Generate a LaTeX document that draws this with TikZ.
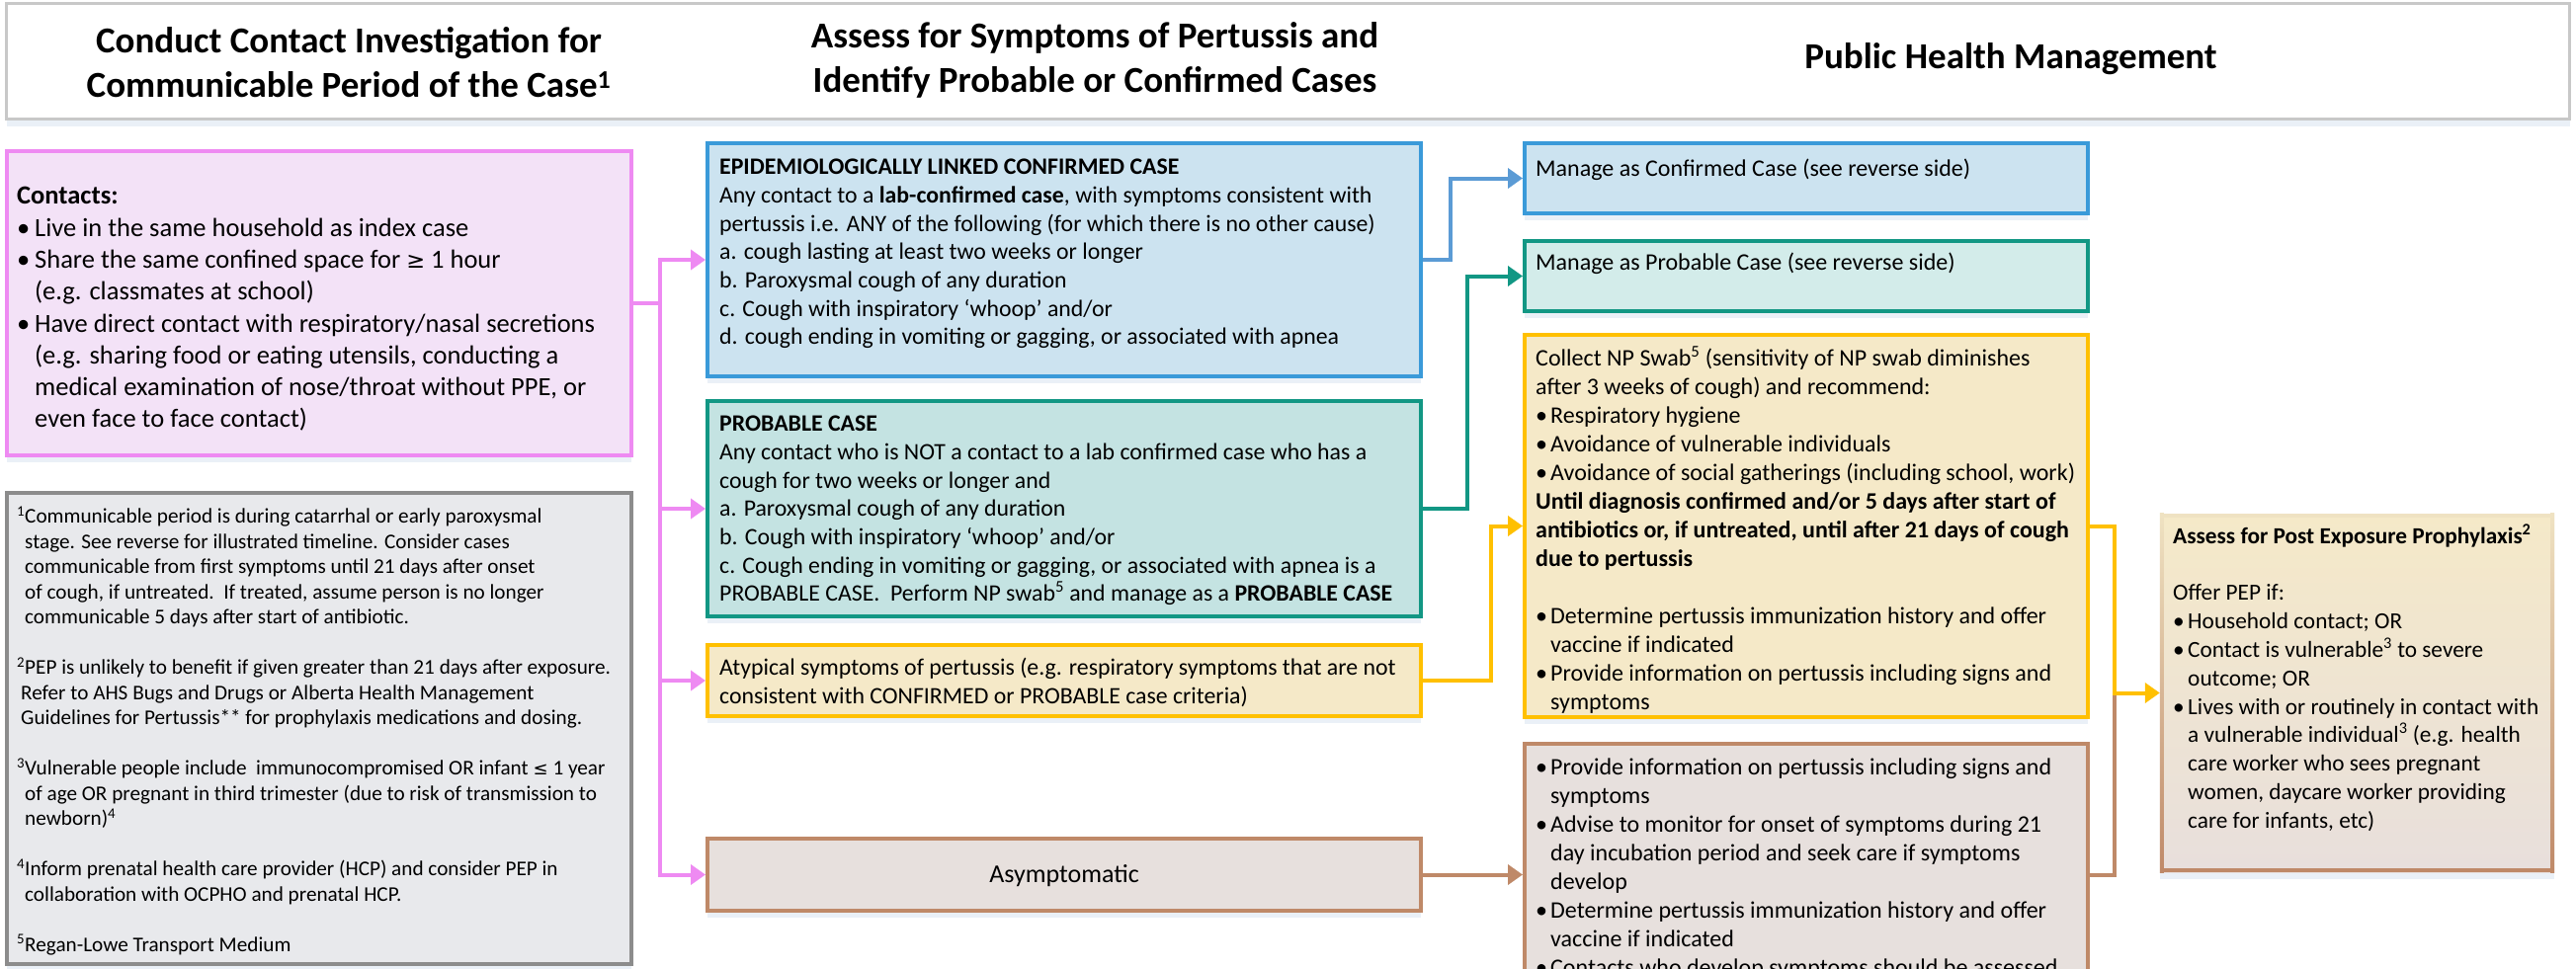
\documentclass[tikz,border=0pt]{standalone}
\usepackage{fontspec}
\setmainfont{Carlito}
\newfontfamily\symfont[Scale=0.85]{DejaVu Sans}
\usetikzlibrary{arrows.meta,shadows,calc}
\definecolor{pinkD}{HTML}{EE8AF2}
\definecolor{pinkF}{HTML}{F3E2F7}
\definecolor{grayD}{HTML}{8C8C8C}
\definecolor{grayF}{HTML}{E8E9EC}
\definecolor{blueD}{HTML}{3A9AD9}
\definecolor{blueF}{HTML}{CCE3F0}
\definecolor{blueA}{HTML}{5B9BD5}
\definecolor{tealD}{HTML}{129784}
\definecolor{tealF}{HTML}{C4E3E2}
\definecolor{tealF2}{HTML}{D3ECEA}
\definecolor{yelD}{HTML}{FFC000}
\definecolor{yelF}{HTML}{F5E9C8}
\definecolor{brownD}{HTML}{BF8968}
\definecolor{brownF}{HTML}{E7E0DD}
\definecolor{pepTop}{HTML}{F5E9C8}
\definecolor{pepBot}{HTML}{E8DFDC}
\definecolor{pepBT}{HTML}{EFE2C2}
\definecolor{hdrD}{HTML}{C8C8C8}
\definecolor{shadowc}{HTML}{EAF0F7}
\newcommand{\mybul}{\makebox[15pt][l]{\textbullet}}
\newcommand{\myind}{\hspace*{15pt}}
\newcommand{\cbul}{\makebox[18pt][l]{\textbullet}}
\newcommand{\cind}{\hspace*{18pt}}
\begin{document}
\begin{tikzpicture}[x=1pt,y=-1pt,
  shd/.style={drop shadow={shadow xshift=0pt,shadow yshift=-7pt,fill=shadowc,opacity=1}},
  box/.style={draw,line width=4pt,inner sep=0pt,shd},
  txt/.style={anchor=west,align=left,inner sep=0pt},
  fbody/.style={font=\fontsize{23.8}{28.7}\selectfont},
  fmgmt/.style={font=\fontsize{24}{29}\selectfont},
  hdrtxt/.style={align=center,inner sep=0pt,font=\fontsize{37}{45}\selectfont\bfseries},
  arr/.style={-{Triangle[length=15pt,width=20pt]}},
  conn/.style={line width=4pt}
]
\fill[white] (0,0) rectangle (2607,980);
\useasboundingbox (0,0) rectangle (2607,980);

% header
\node[draw=hdrD,fill=white,line width=3pt,minimum width=2594pt,minimum height=117pt,inner sep=0pt,shd] (head) at (1303.5,62) {};
\node[hdrtxt] (h1) at (353,63) {Conduct Contact Investigation for\\Communicable Period of the Case\textsuperscript{1}};
\node[hdrtxt] (h2) at (1108,61) {Assess for Symptoms of Pertussis and\\Identify Probable or Confirmed Cases};
\node[hdrtxt] (h3) at (2035,60) {Public Health Management};

% boxes
\node[box,draw=pinkD,fill=pinkF,minimum width=632pt,minimum height=308pt] (contacts) at (323,307) {};
\node[box,draw=grayD,fill=grayF,line width=3.5pt,minimum width=632pt,minimum height=477pt] (foot) at (323,737.5) {};
\node[box,draw=blueD,fill=blueF,minimum width=722pt,minimum height=236pt] (conf) at (1077,263) {};
\node[box,draw=tealD,fill=tealF,minimum width=722pt,minimum height=218pt] (prob) at (1077,515) {};
\node[box,draw=yelD,fill=yelF,minimum width=722pt,minimum height=72pt] (atyp) at (1077,689) {};
\node[box,draw=brownD,fill=brownF,minimum width=722pt,minimum height=73pt] (asym) at (1077,885.5) {};
\node[box,draw=blueD,fill=blueF,minimum width=570pt,minimum height=71pt] (mconf) at (1828,180.5) {};
\node[box,draw=tealD,fill=tealF2,minimum width=570pt,minimum height=71pt] (mprob) at (1828,279.5) {};
\node[box,draw=yelD,fill=yelF,minimum width=570pt,minimum height=387pt] (swab) at (1828,532.5) {};
\node[box,draw=brownD,fill=brownF,minimum width=570pt,minimum height=300pt] (mgmt) at (1828,903) {};
\node[inner sep=0pt,top color=pepTop,bottom color=pepBot,minimum width=399pt,minimum height=363pt,shd] (pep) at (2385.5,701.5) {};
\shade[top color=pepBT,bottom color=brownD] (pep.north west) rectangle ([xshift=4pt]pep.south west);
\shade[top color=pepBT,bottom color=brownD] ([xshift=-4pt]pep.north east) rectangle (pep.south east);
\fill[pepBT] (pep.north west) rectangle ([yshift=-4pt]pep.north east);
\fill[brownD] ([yshift=4pt]pep.south west) rectangle (pep.south east);

% texts
\node[txt,font=\fontsize{26.5}{32.3}\selectfont] (contactsT) at (17,313) {\textbf{Contacts:}\\
\cbul Live in the same household as index case\\
\cbul Share the same confined space for {\symfont ≥} 1 hour\\
\cind (e.g. classmates at school)\\
\cbul Have direct contact with respiratory/nasal secretions\\
\cind (e.g. sharing food or eating utensils, conducting a\\
\cind medical examination of nose/throat without PPE, or\\
\cind even face to face contact)};

\node[txt,font=\fontsize{21.2}{25.5}\selectfont] (footT) at (17,740) {\textsuperscript{1}Communicable period is during catarrhal or early paroxysmal\\
\hspace*{8pt}stage. See reverse for illustrated timeline. Consider cases\\
\hspace*{8pt}communicable from first symptoms until 21 days after onset\\
\hspace*{8pt}of cough, if untreated.\ \ If treated, assume person is no longer\\
\hspace*{8pt}communicable 5 days after start of antibiotic.\\
\strut\\
\textsuperscript{2}PEP is unlikely to benefit if given greater than 21 days after exposure.\\
\hspace*{4pt}Refer to AHS Bugs and Drugs or Alberta Health Management\\
\hspace*{4pt}Guidelines for Pertussis** for prophylaxis medications and dosing.\\
\strut\\
\textsuperscript{3}Vulnerable people include\ \ immunocompromised OR infant {\symfont ≤} 1 year\\
\hspace*{8pt}of age OR pregnant in third trimester (due to risk of transmission to\\
\hspace*{8pt}newborn)\textsuperscript{4}\\
\strut\\
\textsuperscript{4}Inform prenatal health care provider (HCP) and consider PEP in\\
\hspace*{8pt}collaboration with OCPHO and prenatal HCP.\\
\strut\\
\textsuperscript{5}Regan-Lowe Transport Medium};

\node[txt,fbody] (confT) at (728,257) {\textbf{EPIDEMIOLOGICALLY LINKED CONFIRMED CASE}\\
Any contact to a \textbf{lab-confirmed case}, with symptoms consistent with\\
pertussis i.e. ANY of the following (for which there is no other cause)\\
a. cough lasting at least two weeks or longer\\
b. Paroxysmal cough of any duration\\
c. Cough with inspiratory ‘whoop’ and/or\\
d. cough ending in vomiting or gagging, or associated with apnea};

\node[txt,fbody] (probT) at (728,517) {\textbf{PROBABLE CASE}\\
Any contact who is NOT a contact to a lab confirmed case who has a\\
cough for two weeks or longer and\\
a. Paroxysmal cough of any duration\\
b. Cough with inspiratory ‘whoop’ and/or\\
c. Cough ending in vomiting or gagging, or associated with apnea is a\\
PROBABLE CASE.\ \ Perform NP swab\textsuperscript{5} and manage as a \textbf{PROBABLE CASE}};

\node[txt,fbody] (atypT) at (728,691) {Atypical symptoms of pertussis (e.g. respiratory symptoms that are not\\
consistent with CONFIRMED or PROBABLE case criteria)};

\node[inner sep=0pt,font=\fontsize{26}{29}\selectfont] (asymT) at (1077,887) {Asymptomatic};

\node[txt,fmgmt] (mconfT) at (1554,172) {Manage as Confirmed Case (see reverse side)};
\node[txt,fmgmt] (mprobT) at (1554,267) {Manage as Probable Case (see reverse side)};

\node[txt,fmgmt] (swabT) at (1554,537) {Collect NP Swab\textsuperscript{5} (sensitivity of NP swab diminishes\\
after 3 weeks of cough) and recommend:\\
\mybul Respiratory hygiene\\
\mybul Avoidance of vulnerable individuals\\
\mybul Avoidance of social gatherings (including school, work)\\
\textbf{Until diagnosis confirmed and/or 5 days after start of}\\
\textbf{antibiotics or, if untreated, until after 21 days of cough}\\
\textbf{due to pertussis}\\
\strut\\
\mybul Determine pertussis immunization history and offer\\
\myind vaccine if indicated\\
\mybul Provide information on pertussis including signs and\\
\myind symptoms};

\node[txt,fmgmt] (mgmtT) at (1554,879.5) {\mybul Provide information on pertussis including signs and\\
\myind symptoms\\
\mybul Advise to monitor for onset of symptoms during 21\\
\myind day incubation period and seek care if symptoms\\
\myind develop\\
\mybul Determine pertussis immunization history and offer\\
\myind vaccine if indicated\\
\mybul Contacts who develop symptoms should be assessed};

\node[txt,font=\fontsize{23.3}{28.8}\selectfont] (pepT) at (2199,686) {\textbf{Assess for Post Exposure Prophylaxis\textsuperscript{2}}\\
\strut\\
Offer PEP if:\\
\mybul Household contact; OR\\
\mybul Contact is vulnerable\textsuperscript{3} to severe\\
\myind outcome; OR\\
\mybul Lives with or routinely in contact with\\
\myind a vulnerable individual\textsuperscript{3} (e.g. health\\
\myind care worker who sees pregnant\\
\myind women, daycare worker providing\\
\myind care for infants, etc)};

% connectors
\coordinate (bus) at (668,0);
\coordinate (bx) at (1468,0);
\coordinate (tx) at (1485,0);
\coordinate (yx) at (1509,0);
\coordinate (px) at (2140,0);
\draw[conn,pinkD] (contacts.east) -- (contacts.east -| bus);
\draw[conn,pinkD,arr] (asym.west -| bus) |- (conf.west);
\draw[conn,pinkD,arr] (conf.west -| bus) |- (asym.west);
\draw[conn,pinkD,arr] (prob.west -| bus) -- (prob.west);
\draw[conn,pinkD,arr] (atyp.west -| bus) -- (atyp.west);
\draw[conn,blueA,arr] (conf.east) -- (conf.east -| bx) |- (mconf.west);
\draw[conn,tealD,arr] (prob.east) -- (prob.east -| tx) |- (mprob.west);
\draw[conn,yelD,arr] (atyp.east) -- (atyp.east -| yx) |- (swab.west);
\draw[conn,brownD,arr] (asym.east) -- (asym.east -| mgmt.west);
\draw[conn,brownD] (asym.east -| mgmt.east) -- (asym.east -| px) -- (pep.west -| px);
\draw[conn,yelD,arr] (swab.east) -- (swab.east -| px) |- (pep.west);
\end{tikzpicture}
\end{document}
